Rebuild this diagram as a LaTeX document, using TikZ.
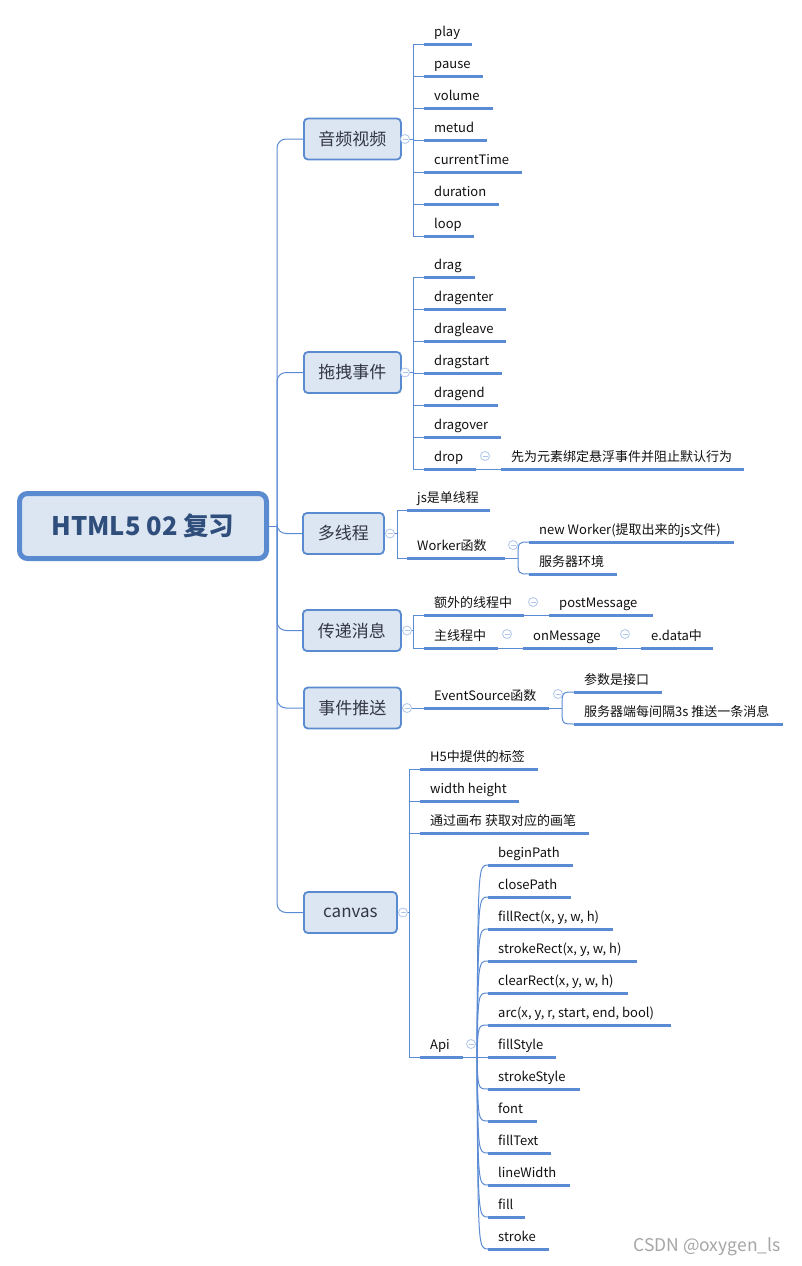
\documentclass[tikz,border=0pt]{standalone}
\usepackage{fontspec}
\setmainfont{Noto Sans CJK SC}
\definecolor{linec}{HTML}{5B8BD4}
\definecolor{nodeb}{HTML}{5A8AD0}
\definecolor{nodef}{HTML}{DCE6F2}
\definecolor{colc}{HTML}{AFC6EC}
\definecolor{roott}{HTML}{2F4E7B}
\definecolor{l1t}{HTML}{333744}
\definecolor{leaft}{HTML}{111111}
\tikzset{
  conn/.style={draw=linec, line width=1pt},
  ul/.style={draw=linec, line width=3pt},
  rootbox/.style={draw=nodeb, line width=5pt, fill=nodef, rounded corners=8pt,
    minimum width=247pt, minimum height=65pt, text=roott,
    font=\fontsize{25.5}{30}\selectfont\bfseries},
  l1/.style={draw=nodeb, line width=1.8pt, fill=nodef, rounded corners=4pt,
    minimum height=41pt, anchor=west, text=l1t, inner xsep=0pt,
    font=\fontsize{17}{20}\selectfont},
  leaf/.style={anchor=base west, inner sep=0pt, text=leaft,
    font=\fontsize{13}{15}\selectfont},
  col/.style={circle, draw=colc, fill=white, line width=0.8pt, minimum size=9pt,
    inner sep=0pt, path picture={\draw[colc, line width=0.8pt]
      ([xshift=-2.5pt]path picture bounding box.center) --
      ([xshift=2.5pt]path picture bounding box.center);}},
  wm/.style={text=black!35, font=\fontsize{17.5}{20}\selectfont}
}
\newcommand{\lf}[5]{%
  \node[leaf] (#1) at (#2,#3-8) {#5};
  \coordinate (#1-s) at (#2-10,#3);
  \coordinate (#1-e) at (#4,#3);
  \draw[ul] (#1-s) -- (#1-e);}
\begin{document}
\begin{tikzpicture}[x=1pt,y=-1pt]
\useasboundingbox (0,0) rectangle (801,1266);
\fill[white] (0,0) rectangle (801,1266);

% root
\node[rootbox] (root) at (143,526) {HTML5 02 复习};
\coordinate (trunk) at (277,526);

% level 1 nodes
\node[l1, minimum width=97pt] (av) at (303,139) {音频视频};
\node[l1, minimum width=97pt] (dd) at (303,372.5) {拖拽事件};
\node[l1, minimum width=81pt] (dx) at (302,533.5) {多线程};
\node[l1, minimum width=98pt] (cd) at (302,630.5) {传递消息};
\node[l1, minimum width=97pt] (ep) at (303,708) {事件推送};
\node[l1, minimum width=93pt] (cv) at (303,912.5) {canvas};

% trunk connectors
\draw[conn] (root.east) -- (trunk);
\foreach \n in {av,dd,dx,cd,ep,cv}
  \draw[conn, rounded corners=9pt] (trunk) |- (\n.west);

% ---------- 音频视频 ----------
\lf{play}{434}{44}{472}{play}
\lf{pause}{434}{76}{483}{pause}
\lf{volume}{434}{108}{493}{volume}
\lf{metud}{434}{140}{487}{metud}
\lf{ct}{434}{172}{522}{currentTime}
\lf{dur}{434}{204}{499}{duration}
\lf{loop}{434}{236}{474}{loop}
\coordinate (avbr) at (413,139);
\draw[conn] (av.east) -- (avbr);
\foreach \n in {play,pause,volume,metud,ct,dur,loop}
  \draw[conn] (avbr) |- (\n-s);
\node[col] (avc) at (405,139) {};

% ---------- 拖拽事件 ----------
\lf{drag}{434}{277}{475}{drag}
\lf{dragenter}{434}{309}{506}{dragenter}
\lf{dragleave}{434}{341}{506}{dragleave}
\lf{dragstart}{434}{373}{502}{dragstart}
\lf{dragend}{434}{405}{498}{dragend}
\lf{dragover}{434}{437}{501}{dragover}
\lf{drop}{434}{469}{476}{drop}
\lf{dropd}{511}{469}{744}{先为元素绑定悬浮事件并阻止默认行为}
\coordinate (ddbr) at (413,372.5);
\draw[conn] (dd.east) -- (ddbr);
\foreach \n in {drag,dragenter,dragleave,dragstart,dragend,dragover,drop}
  \draw[conn] (ddbr) |- (\n-s);
\draw[conn] (drop-e) -- (dropd-s);
\node[col] (ddc) at (405,372.5) {};
\node[col] (dropc) at (485,456) {};

% ---------- 多线程 ----------
\lf{js}{417}{510}{490}{js是单线程}
\lf{wk}{417}{558}{505}{Worker函数}
\lf{nw}{539}{542}{734}{new Worker(提取出来的js文件)}
\lf{fw}{539}{574}{617}{服务器环境}
\coordinate (dxbr) at (397,533.5);
\draw[conn] (dx.east) -- (dxbr);
\foreach \n in {js,wk}
  \draw[conn] (dxbr) |- (\n-s);
\coordinate (wkh) at (518,558);
\draw[conn] (wk-e) -- (wkh);
\draw[conn] (wkh) .. controls (518,542) .. (nw-s);
\draw[conn] (wkh) .. controls (518,574) .. (fw-s);
\node[col] (dxc) at (390,533.5) {};
\node[col] (wkc) at (513,545) {};

% ---------- 传递消息 ----------
\lf{ew}{434}{615}{524}{额外的线程中}
\lf{pm}{559}{615}{653}{postMessage}
\lf{zx}{434}{648}{498}{主线程中}
\lf{om}{533}{648}{617}{onMessage}
\lf{ed}{651}{648}{713}{e.data中}
\coordinate (cdbr) at (413,630.5);
\draw[conn] (cd.east) -- (cdbr);
\foreach \n in {ew,zx}
  \draw[conn] (cdbr) |- (\n-s);
\draw[conn] (ew-e) -- (pm-s);
\draw[conn] (zx-e) -- (om-s);
\draw[conn] (om-e) -- (ed-s);
\node[col] (cdc) at (407,630.5) {};
\node[col] (ewc) at (533,602) {};
\node[col] (zxc) at (507,634) {};
\node[col] (omc) at (625,634) {};

% ---------- 事件推送 ----------
\lf{es}{434}{708}{549}{EventSource函数}
\lf{cs}{584}{692}{662}{参数是接口}
\lf{fs}{584}{724}{783}{服务器端每间隔3s 推送一条消息}
\draw[conn] (ep.east) -- (es-s);
\coordinate (esh) at (562,708);
\draw[conn] (es-e) -- (esh);
\draw[conn] (esh) .. controls (562,692) .. (cs-s);
\draw[conn] (esh) .. controls (562,724) .. (fs-s);
\node[col] (epc) at (407,708) {};
\node[col] (esc) at (558,694) {};

% ---------- canvas ----------
\lf{h5}{430}{769}{538}{H5中提供的标签}
\lf{wh}{430}{801}{519}{width height}
\lf{tg}{430}{833}{589}{通过画布 获取对应的画笔}
\lf{api}{430}{1057}{463}{Api}
\coordinate (cvbr) at (409,912.5);
\draw[conn] (cv.east) -- (cvbr);
\foreach \n in {h5,wh,tg,api}
  \draw[conn] (cvbr) |- (\n-s);
\node[col] (cvc) at (403,912.5) {};

\lf{a1}{498}{865}{573}{beginPath}
\lf{a2}{498}{897}{571}{closePath}
\lf{a3}{498}{929}{613}{fillRect(x, y, w, h)}
\lf{a4}{498}{961}{637}{strokeRect(x, y, w, h)}
\lf{a5}{498}{993}{628}{clearRect(x, y, w, h)}
\lf{a6}{498}{1025}{671}{arc(x, y, r, start, end, bool)}
\lf{a7}{498}{1057}{556}{fillStyle}
\lf{a8}{498}{1089}{580}{strokeStyle}
\lf{a9}{498}{1121}{537}{font}
\lf{a10}{498}{1153}{551}{fillText}
\lf{a11}{498}{1185}{570}{lineWidth}
\lf{a12}{498}{1217}{525}{fill}
\lf{a13}{498}{1249}{549}{stroke}
\coordinate (apih) at (477,1057);
\draw[conn] (api-e) -- (apih);
\foreach \n/\y in {a1/865,a2/897,a3/929,a4/961,a5/993,a6/1025,a7/1057,a8/1089,a9/1121,a10/1153,a11/1185,a12/1217,a13/1249}
  \draw[conn] (apih) .. controls (478,\y) .. (\n-s);
\node[col] (apic) at (471,1044) {};

% watermark
\node[wm] (wmk) at (707,1247) {CSDN @oxygen\_ls};
\end{tikzpicture}
\end{document}
